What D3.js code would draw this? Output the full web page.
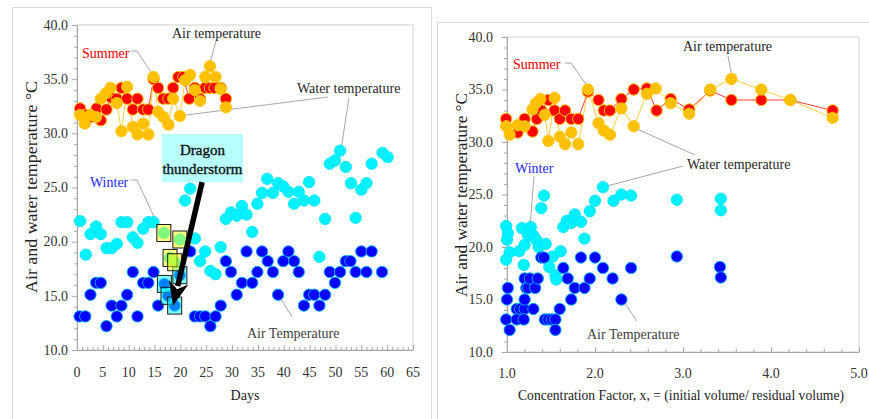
<!DOCTYPE html>
<html><head><meta charset="utf-8">
<script src="https://cdn.jsdelivr.net/npm/d3@7"></script>
<style>
body{margin:0;background:#fff;}
svg{display:block;font-family:"Liberation Serif","Times New Roman",serif;}
</style></head><body>
<svg id="c" width="869" height="419"></svg>
<script>
// ---------------- DATA ----------------
// Left panel: x = days
const leftSummerRed = [[0.6,32.3],[1.6,31.7],[2.6,31.5],[3.8,32.3],[4.6,31.2],[5.7,32.2],[6.6,33.3],[7.7,33.2],[8.6,34.2],[9.7,33.2],[10.8,32.2],[11.7,33.2],[12.8,32.2],[13.8,32.2],[14.8,35.0],[15.7,34.2],[16.7,33.2],[17.7,33.2],[18.6,34.2],[19.6,35.2],[20.6,35.2],[21.7,33.2],[22.8,34.2],[23.8,33.2],[24.8,34.2],[25.7,34.2],[26.6,34.2],[27.8,34.2],[28.8,33.2]];
const leftSummerGold = [[0.6,31.7],[1.5,30.9],[2.6,31.7],[3.7,31.5],[4.6,33.2],[5.6,33.7],[6.5,34.2],[7.7,32.8],[8.6,30.2],[9.7,34.3],[10.8,30.6],[11.7,29.9],[12.8,30.9],[13.8,29.9],[14.8,35.2],[15.7,32.0],[16.7,31.5],[17.7,30.8],[18.6,33.2],[19.9,31.6],[20.9,34.9],[21.9,35.4],[22.8,34.0],[23.8,33.0],[24.8,35.2],[25.7,36.2],[26.8,35.2],[27.8,34.1],[28.8,32.4]];
const leftWinterWater = [[0.6,21.9],[1.7,18.8],[2.6,20.7],[3.7,21.4],[4.6,20.7],[5.7,19.4],[6.7,19.4],[7.7,19.8],[8.6,21.8],[9.7,21.8],[10.8,20.4],[11.7,19.9],[12.8,21.2],[13.8,21.8],[14.8,21.8],[16.8,20.8],[18.0,18.5],[18.9,18.1],[19.9,20.2],[20.9,23.8],[21.9,24.9],[22.8,20.3],[23.8,18.2],[24.8,19.1],[25.8,17.3],[26.8,17.0],[27.8,19.5],[28.8,22.1],[29.8,22.7],[30.9,22.4],[31.9,23.3],[32.8,22.5],[33.9,20.9],[34.9,23.5],[35.8,24.5],[36.8,25.8],[37.9,24.5],[38.9,25.4],[39.9,25.1],[40.9,24.6],[42.0,23.5],[42.9,24.6],[43.9,23.8],[44.9,25.5],[45.9,23.8],[46.9,18.6],[48.0,22.1],[48.9,27.2],[49.9,27.5],[50.9,28.4],[52.0,26.9],[53.0,25.4],[53.9,22.2],[55.0,24.8],[56.0,25.4],[57.0,27.2],[59.1,28.2],[60.1,27.8]];
const leftWinterAir = [[0.5,13.1],[1.6,13.1],[2.6,15.1],[3.7,16.2],[4.6,16.2],[5.7,12.2],[6.7,14.1],[7.7,13.1],[8.6,14.1],[9.7,15.1],[10.8,17.2],[11.7,13.1],[12.8,16.2],[13.8,16.2],[14.8,17.2],[15.7,14.1],[16.9,16.1],[17.6,15.0],[18.9,14.1],[19.9,16.9],[21.9,19.1],[22.8,13.1],[23.8,13.1],[24.8,13.1],[25.8,12.2],[26.8,13.1],[27.8,14.1],[28.8,18.2],[29.8,17.2],[30.9,15.1],[31.9,16.2],[32.8,19.1],[33.9,16.2],[34.9,17.2],[35.8,19.1],[36.9,18.2],[37.9,17.2],[38.9,15.1],[39.9,18.2],[40.9,19.1],[42.0,18.2],[42.9,17.2],[43.9,14.1],[44.9,15.1],[45.9,15.1],[46.9,14.1],[48.0,15.1],[48.9,17.2],[49.9,16.2],[50.9,17.2],[52.0,18.2],[52.9,18.2],[53.9,17.2],[55.0,19.1],[56.0,17.2],[57.0,19.1],[59.0,17.2]];
// Dragon thunderstorm highlighted points
const stormWater = [[16.8,20.8],[19.9,20.2],[18.0,18.5],[18.9,18.1]];
const stormAir = [[16.9,16.1],[17.6,15.0],[18.9,14.1],[19.9,16.9]];

// Right panel: x = concentration factor
const rightSummerRed = [[0.99,32.2],[1.12,30.9],[1.20,32.2],[1.29,31.0],[1.34,32.2],[1.39,33.0],[1.47,34.0],[1.54,33.0],[1.60,32.2],[1.66,33.0],[1.73,32.2],[1.81,32.2],[1.92,34.8],[2.04,34.0],[2.10,33.0],[2.17,33.0],[2.30,34.1],[2.44,35.0],[2.59,35.1],[2.70,33.0],[2.86,34.1],[3.07,33.1],[3.31,34.9],[3.55,34.0],[3.89,34.0],[4.22,34.0],[4.70,33.0]];
const rightSummerGold = [[0.99,31.5],[1.03,30.7],[1.12,31.6],[1.20,31.5],[1.29,33.1],[1.33,33.7],[1.38,34.1],[1.43,32.6],[1.47,30.1],[1.54,34.2],[1.60,30.5],[1.66,29.8],[1.73,30.9],[1.81,29.8],[1.92,35.0],[2.04,31.8],[2.10,31.1],[2.17,30.7],[2.30,33.2],[2.44,31.5],[2.59,34.6],[2.69,35.1],[2.86,33.7],[3.07,32.7],[3.31,35.0],[3.55,36.0],[3.89,35.0],[4.22,34.0],[4.70,32.3]];
const rightWinterWater = [[0.99,22.0],[1.01,21.3],[1.00,20.7],[1.03,19.5],[0.99,18.8],[1.14,19.6],[1.17,21.8],[1.19,18.3],[1.20,20.2],[1.24,21.1],[1.27,21.9],[1.30,21.1],[1.33,20.7],[1.36,20.0],[1.39,23.7],[1.42,24.9],[1.44,20.3],[1.48,18.1],[1.52,19.1],[1.55,17.3],[1.56,16.9],[1.61,19.6],[1.64,21.9],[1.68,22.5],[1.73,22.3],[1.77,23.1],[1.84,22.4],[1.88,20.8],[1.94,23.4],[2.00,24.4],[2.09,25.7],[2.21,24.4],[2.30,25.0],[2.41,24.9],[2.93,24.5],[3.43,24.6],[3.43,23.5]];
const rightWinterAir = [[1.01,16.1],[1.00,15.0],[0.99,13.1],[1.03,12.1],[1.11,14.1],[1.15,14.1],[1.20,14.1],[1.30,14.1],[1.11,13.1],[1.19,13.1],[1.20,15.0],[1.20,17.0],[1.22,16.1],[1.24,16.1],[1.26,17.0],[1.32,16.1],[1.35,17.0],[1.39,19.0],[1.42,19.0],[1.43,13.1],[1.47,13.1],[1.51,13.1],[1.55,13.1],[1.55,12.1],[1.60,14.1],[1.64,18.0],[1.69,17.0],[1.73,15.0],[1.77,16.1],[1.84,19.0],[1.88,16.1],[1.94,17.0],[2.00,19.0],[2.09,18.0],[2.20,17.0],[2.30,15.0],[2.41,18.0],[2.93,19.1],[3.42,18.1],[3.43,17.1]];

// Tick labels
const yTicks = [10,15,20,25,30,35,40];
const leftXTicks = [0,5,10,15,20,25,30,35,40,45,50,55,60,65];
const rightXTicks = [1,2,3,4,5];

// Text
const yTitle = "Air and water temperature °C";
const leftXTitle = "Days";
const rightXTitle = "Concentration Factor, x, = (initial volume/ residual volume)";

// Annotations (data coordinates)
const leftNotes = [
  {text:"Summer", at:[0.97,37.0], color:"#ff0000"},
  {text:"Air temperature", at:[18.38,38.8], color:"#262626"},
  {text:"Water temperature", at:[42.55,33.72], color:"#262626"},
  {text:"Winter", at:[2.51,25.09], color:"#1f1fff"},
  {text:"Air Temperature", at:[32.88,11.15], color:"#404040"}
];
const leftLeaders = [
  [[10.44,37.6],[11.61,37.6],[14.51,35.48]],
  [[26.89,38.52],[25.73,36.49]],
  [[21.08,31.69],[48.55,33.35]],
  [[52.61,33.26],[51.06,28.46]],
  [[10.44,25.69],[11.61,25.69],[15.28,21.91]],
  [[39.26,14.89],[41.59,13.05]]
];
const rightNotes = [
  {text:"Summer", at:[1.068,36.95], color:"#ff0000"},
  {text:"Air temperature", at:[3.0,38.67], color:"#262626"},
  {text:"Water temperature", at:[3.045,27.43], color:"#262626"},
  {text:"Winter", at:[1.091,27.05], color:"#1f1fff"},
  {text:"Air Temperature", at:[1.909,11.24], color:"#404040"}
];
const rightLeaders = [
  [[1.659,37.52],[1.727,37.52],[1.92,35.24]],
  [[3.511,38.19],[3.557,36.19]],
  [[2.477,31.24],[3.136,28.76]],
  [[2.136,25.81],[3.0,27.71]],
  [[1.307,26.76],[1.261,21.81]],
  [[2.33,14.76],[2.477,12.95]]
];
const stormBox = {x0:16.44, x1:32.11, yTop:29.94, yBottom:25.51, lines:["Dragon","thunderstorm"], textX:24.27, baselines:[28.0,26.25]};
const stormArrow = {from:[24.2,25.5], to:[18.6,14.1]};

// ---------------- DRAWING ----------------
const svg = d3.select("#c");
const R = 5.7;

function drawPanel(p){
  const g = svg.append("g");
  const x = p.x, y = p.y;
  const [x0,x1] = x.range(), [yb,yt] = y.range();
  // frames
  g.append("rect").attr("x",p.frame[0]+0.5).attr("y",p.frame[1]+0.5)
    .attr("width",p.frame[2]).attr("height",p.frame[3])
    .attr("fill","none").attr("stroke","#d9d9d9");
  g.append("rect").attr("x",x0).attr("y",yt).attr("width",x1-x0).attr("height",yb-yt)
    .attr("fill","none").attr("stroke","#cfcfcf");
  // axes
  g.append("g").attr("transform",`translate(0,${yb})`)
    .call(d3.axisBottom(x).tickValues(p.xMaj).tickSize(-5).tickSizeOuter(0).tickFormat(""));
  const axm = g.append("g").attr("transform",`translate(0,${yb})`)
    .call(d3.axisBottom(x).tickValues(p.xMin).tickSize(-3).tickSizeOuter(0).tickFormat(""));
  axm.select(".domain").remove();
  g.append("g").attr("transform",`translate(${x0},0)`)
    .call(d3.axisLeft(y).tickValues(yTicks).tickSize(5).tickSizeOuter(0).tickFormat(""));
  const aym = g.append("g").attr("transform",`translate(${x0},0)`)
    .call(d3.axisLeft(y).tickValues(d3.range(10,41,1).filter(v=>v%5)).tickSize(3).tickSizeOuter(0).tickFormat(""));
  aym.select(".domain").remove();
  g.selectAll(".tick line,.domain").attr("stroke","#a6a6a6");
  // tick labels
  g.append("g").selectAll("text").data(yTicks).join("text")
    .attr("x",x0-p.yLabGap).attr("y",d=>y(d)+4.8).attr("text-anchor","end")
    .attr("font-size",14).attr("fill","#333").text(d=>d3.format(".1f")(d));
  g.append("g").selectAll("text").data(p.xMaj).join("text")
    .attr("x",d=>x(d)).attr("y",p.xLabY).attr("text-anchor","middle")
    .attr("font-size",14).attr("fill","#333").text(p.xFmt);
  // titles
  g.append("text").attr("transform",`translate(${p.yTitleX},${p.yTitleY}) rotate(-90)`)
    .attr("text-anchor","middle").attr("font-size",16).attr("fill","#222")
    .attr("textLength",p.yTitleLen).attr("lengthAdjust","spacingAndGlyphs").text(yTitle);
  const xt = g.append("text").attr("x",p.xTitleX).attr("y",400).attr("text-anchor","middle")
    .attr("font-size",14).attr("fill","#222").text(p.xTitle);
  if(p.xTitleLen) xt.attr("textLength",p.xTitleLen).attr("lengthAdjust","spacingAndGlyphs");

  // leaders
  const ln = d3.line().x(d=>x(d[0])).y(d=>y(d[1]));
  g.append("g").selectAll("path").data(p.leaders).join("path")
    .attr("d",ln).attr("fill","none").attr("stroke","#a6a6a6").attr("stroke-width",1);

  // summer lines
  g.append("path").attr("d",ln(p.red)).attr("fill","none").attr("stroke","#ff3b3b").attr("stroke-width",1);
  g.append("path").attr("d",ln(p.gold)).attr("fill","none").attr("stroke","#ffcf40").attr("stroke-width",1);

  const dots = (data, fill, stroke, sw) => g.append("g").selectAll("circle").data(data).join("circle")
    .attr("cx",d=>x(d[0])).attr("cy",d=>y(d[1])).attr("r",R)
    .attr("fill",fill).attr("stroke",stroke).attr("stroke-width",sw);
  dots(p.water, "#00f2ff", "#00e0ff", 0.8);
  dots(p.air, "#0000ff", "#00b0f0", 0.9);
  dots(p.red, "#ff0000", "#ffc000", 1);
  dots(p.gold, "#ffc000", "#ffc000", 0.8);

  // notes
  g.append("g").selectAll("text").data(p.notes).join("text")
    .attr("x",d=>x(d.at[0])).attr("y",d=>y(d.at[1]))
    .attr("font-size",14).attr("fill",d=>d.color).text(d=>d.text);
  return g;
}

const xL = d3.scaleLinear([0,65],[77,413]);
const yL = d3.scaleLinear([10,40],[350,25]);
const gL = drawPanel({
  x:xL, y:yL, frame:[12,7,419,430],
  xMaj:leftXTicks, xMin:d3.range(0,66,1).filter(v=>v%5), xFmt:d=>d, xLabY:377,
  yLabGap:9, yTitleX:37, yTitleY:187, yTitleLen:212,
  xTitle:leftXTitle, xTitleX:245,
  red:leftSummerRed, gold:leftSummerGold, water:leftWinterWater, air:leftWinterAir,
  notes:leftNotes, leaders:leftLeaders
});

const xR = d3.scaleLinear([1,5],[507,859]);
const yR = d3.scaleLinear([10,40],[352,37]);
drawPanel({
  x:xR, y:yR, frame:[437,22,440,430],
  xMaj:rightXTicks, xMin:d3.range(1.2,5,0.2).filter(v=>Math.abs(v-Math.round(v))>0.05), xFmt:d=>d3.format(".1f")(d), xLabY:378,
  yLabGap:14, yTitleX:467, yTitleY:195, yTitleLen:204,
  xTitle:rightXTitle, xTitleX:681, xTitleLen:326,
  red:rightSummerRed, gold:rightSummerGold, water:rightWinterWater, air:rightWinterAir,
  notes:rightNotes, leaders:rightLeaders
});

// Storm highlight squares (left panel)
const SW = 14, SH = 17;
gL.append("g").selectAll("rect").data(stormAir).join("rect")
  .attr("x",d=>xL(d[0])-SW/2).attr("y",d=>yL(d[1])-SH/2).attr("width",SW).attr("height",SH)
  .attr("fill","rgba(0,255,255,0.5)").attr("stroke","#1a1a1a").attr("stroke-width",1);
gL.append("g").selectAll("rect").data(stormWater).join("rect")
  .attr("x",d=>xL(d[0])-SW/2).attr("y",d=>yL(d[1])-SH/2).attr("width",SW).attr("height",SH)
  .attr("fill","rgba(255,255,0,0.5)").attr("stroke","#1a1a1a").attr("stroke-width",1);

// Storm box
gL.append("rect").attr("x",xL(stormBox.x0)).attr("y",yL(stormBox.yTop))
  .attr("width",xL(stormBox.x1)-xL(stormBox.x0)).attr("height",yL(stormBox.yBottom)-yL(stormBox.yTop))
  .attr("fill","#b8ffff");
gL.append("g").selectAll("text").data(stormBox.lines).join("text")
  .attr("x",xL(stormBox.textX)).attr("y",(d,i)=>yL(stormBox.baselines[i]))
  .attr("text-anchor","middle").attr("font-size",15).attr("fill","#111")
  .attr("stroke","#111").attr("stroke-width",0.35).text(d=>d);

// Arrow
(function(){
  const sx=xL(stormArrow.from[0]), sy=yL(stormArrow.from[1]);
  const tx=xL(stormArrow.to[0]), ty=yL(stormArrow.to[1]);
  const L=Math.hypot(tx-sx,ty-sy), ux=(tx-sx)/L, uy=(ty-sy)/L, px=-uy, py=ux;
  const hl=24, hw=10;
  const bx=tx-ux*hl, by=ty-uy*hl;
  gL.append("line").attr("x1",sx).attr("y1",sy).attr("x2",bx+ux*4).attr("y2",by+uy*4)
    .attr("stroke","#000").attr("stroke-width",5.5);
  gL.append("path").attr("d",`M${tx},${ty}L${bx+px*hw},${by+py*hw}L${tx-ux*hl*0.7},${ty-uy*hl*0.7}L${bx-px*hw},${by-py*hw}Z`)
    .attr("fill","#000");
})();
</script>
</body></html>
